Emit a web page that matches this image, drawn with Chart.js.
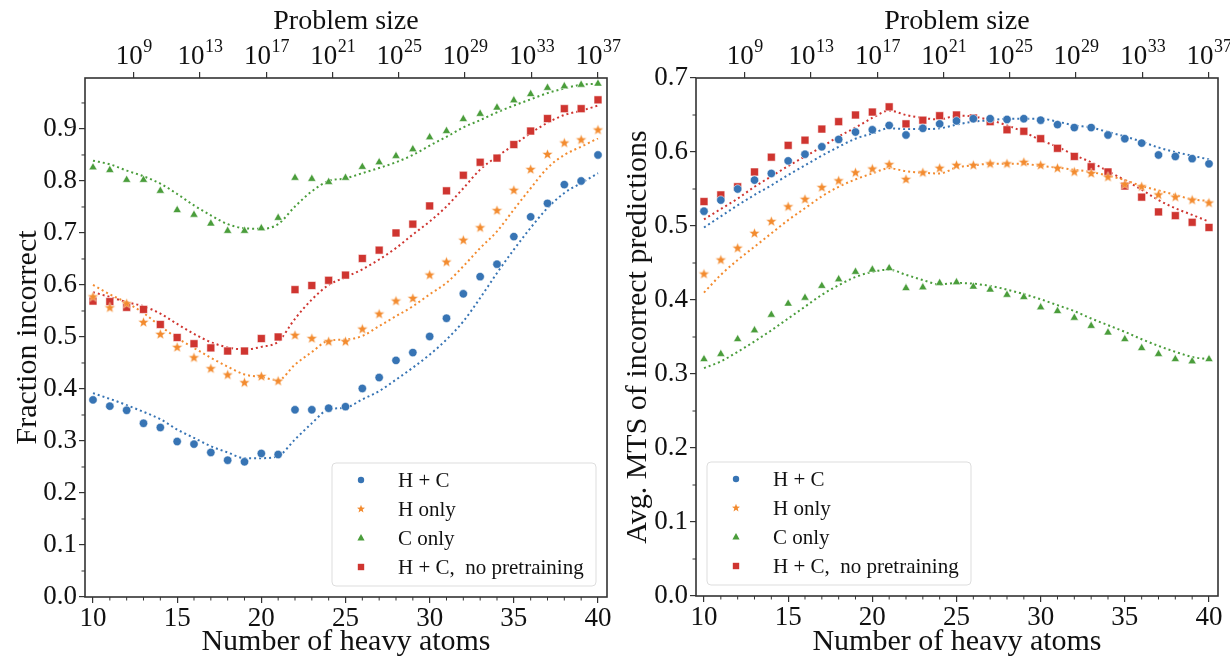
<!DOCTYPE html>
<html>
<head>
<meta charset="utf-8">
<script src="https://cdn.jsdelivr.net/npm/chart.js@4.4.1/dist/chart.umd.min.js"></script>
<style>
html, body { margin: 0; padding: 0; background: #fff; }
#wrap { position: relative; width: 1230px; height: 658px; overflow: hidden; }
.panel { position: absolute; top: 0; width: 630px; height: 658px; }
</style>
</head>
<body>
<div id="wrap">
    <div class="panel" style="left:0"><canvas id="fracChart" width="630" height="658"></canvas></div>
    <div class="panel" style="left:600px"><canvas id="mtsChart" width="630" height="658"></canvas></div>
</div>
<script>
"use strict"

/******************************************************************************/
// data
/******************************************************************************/

const atoms = [10, 11, 12, 13, 14, 15, 16, 17, 18, 19, 20, 21, 22, 23, 24, 25,
    26, 27, 28, 29, 30, 31, 32, 33, 34, 35, 36, 37, 38, 39, 40]

// left panel: fraction incorrect
const fracHC = [0.379, 0.367, 0.359, 0.334, 0.326, 0.299, 0.294, 0.278, 0.263, 0.260, 0.276, 0.274, 0.360, 0.360, 0.363, 0.366,
    0.401, 0.422, 0.455, 0.470, 0.501, 0.536, 0.583, 0.616, 0.640, 0.693, 0.731, 0.757, 0.793, 0.800, 0.850]
const fracHCFit = [0.392, 0.381, 0.369, 0.356, 0.342, 0.322, 0.306, 0.290, 0.278, 0.267, 0.267, 0.271, 0.303, 0.334, 0.361, 0.364,
    0.380, 0.396, 0.418, 0.441, 0.466, 0.495, 0.530, 0.575, 0.623, 0.668, 0.710, 0.748, 0.777, 0.796, 0.815]
const fracH = [0.577, 0.556, 0.564, 0.528, 0.505, 0.480, 0.460, 0.439, 0.427, 0.412, 0.424, 0.415, 0.503, 0.497, 0.491, 0.491,
    0.515, 0.544, 0.569, 0.574, 0.619, 0.644, 0.686, 0.710, 0.743, 0.782, 0.822, 0.851, 0.873, 0.879, 0.898]
const fracHFit = [0.600, 0.582, 0.566, 0.546, 0.521, 0.498, 0.479, 0.460, 0.443, 0.428, 0.423, 0.417, 0.447, 0.471, 0.493, 0.495,
    0.502, 0.521, 0.540, 0.559, 0.582, 0.604, 0.636, 0.671, 0.703, 0.745, 0.786, 0.825, 0.850, 0.866, 0.882]
const fracC = [0.826, 0.821, 0.802, 0.802, 0.781, 0.744, 0.735, 0.718, 0.704, 0.704, 0.709, 0.729, 0.806, 0.804, 0.798, 0.806,
    0.827, 0.836, 0.848, 0.861, 0.884, 0.896, 0.919, 0.929, 0.941, 0.955, 0.967, 0.979, 0.982, 0.985, 0.987]
const fracCFit = [0.839, 0.832, 0.820, 0.809, 0.795, 0.775, 0.753, 0.734, 0.717, 0.709, 0.708, 0.717, 0.751, 0.780, 0.800, 0.805,
    0.815, 0.825, 0.836, 0.850, 0.868, 0.885, 0.903, 0.917, 0.932, 0.945, 0.957, 0.969, 0.978, 0.985, 0.987]
const fracNP = [0.569, 0.568, 0.557, 0.553, 0.524, 0.499, 0.487, 0.479, 0.473, 0.473, 0.497, 0.500, 0.591, 0.599, 0.609, 0.619,
    0.651, 0.667, 0.700, 0.717, 0.752, 0.781, 0.811, 0.836, 0.844, 0.870, 0.896, 0.920, 0.939, 0.939, 0.956]
const fracNPFit = [0.586, 0.577, 0.567, 0.559, 0.545, 0.525, 0.506, 0.490, 0.480, 0.476, 0.481, 0.491, 0.535, 0.572, 0.600, 0.615,
    0.630, 0.649, 0.671, 0.697, 0.722, 0.751, 0.786, 0.822, 0.847, 0.869, 0.892, 0.912, 0.927, 0.935, 0.945]

// right panel: avg. MTS of incorrect predictions
const mtsHC = [0.520, 0.535, 0.550, 0.562, 0.571, 0.588, 0.597, 0.607, 0.617, 0.627, 0.630, 0.636, 0.623, 0.632, 0.638, 0.642,
    0.645, 0.645, 0.644, 0.645, 0.643, 0.637, 0.633, 0.633, 0.623, 0.618, 0.612, 0.596, 0.594, 0.591, 0.584]
const mtsHCFit = [0.498, 0.513, 0.528, 0.542, 0.555, 0.569, 0.582, 0.595, 0.607, 0.618, 0.625, 0.632, 0.631, 0.631, 0.632, 0.637,
    0.641, 0.643, 0.645, 0.645, 0.645, 0.641, 0.636, 0.633, 0.627, 0.621, 0.614, 0.606, 0.600, 0.595, 0.590]
const mtsH = [0.435, 0.454, 0.470, 0.490, 0.506, 0.526, 0.536, 0.552, 0.561, 0.572, 0.577, 0.583, 0.563, 0.572, 0.578, 0.582,
    0.582, 0.584, 0.584, 0.586, 0.582, 0.578, 0.573, 0.571, 0.566, 0.556, 0.553, 0.542, 0.539, 0.535, 0.531]
const mtsHFit = [0.410, 0.434, 0.454, 0.472, 0.490, 0.508, 0.524, 0.540, 0.553, 0.563, 0.571, 0.578, 0.574, 0.572, 0.571, 0.579,
    0.582, 0.584, 0.584, 0.584, 0.581, 0.579, 0.576, 0.573, 0.568, 0.562, 0.554, 0.548, 0.542, 0.536, 0.534]
const mtsC = [0.320, 0.327, 0.347, 0.359, 0.380, 0.395, 0.403, 0.419, 0.428, 0.438, 0.441, 0.443, 0.416, 0.417, 0.423, 0.424,
    0.418, 0.414, 0.407, 0.404, 0.390, 0.385, 0.376, 0.365, 0.356, 0.347, 0.335, 0.327, 0.320, 0.317, 0.320]
const mtsCFit = [0.308, 0.317, 0.330, 0.344, 0.359, 0.375, 0.391, 0.407, 0.420, 0.431, 0.438, 0.441, 0.434, 0.427, 0.421, 0.423,
    0.422, 0.419, 0.414, 0.408, 0.401, 0.393, 0.385, 0.375, 0.366, 0.357, 0.347, 0.338, 0.330, 0.323, 0.320]
const mtsNP = [0.533, 0.542, 0.553, 0.573, 0.593, 0.609, 0.616, 0.631, 0.641, 0.650, 0.654, 0.661, 0.638, 0.643, 0.649, 0.650,
    0.646, 0.641, 0.630, 0.628, 0.618, 0.605, 0.594, 0.580, 0.573, 0.554, 0.539, 0.519, 0.514, 0.505, 0.498]
const mtsNPFit = [0.509, 0.523, 0.537, 0.553, 0.567, 0.581, 0.594, 0.607, 0.621, 0.633, 0.646, 0.656, 0.650, 0.646, 0.644, 0.649,
    0.648, 0.643, 0.636, 0.627, 0.616, 0.607, 0.596, 0.586, 0.574, 0.562, 0.549, 0.535, 0.524, 0.515, 0.506]

// axes
const xTicks = [10, 15, 20, 25, 30, 35, 40]
const sizeTickAtoms = [12.42, 16.36, 20.3, 24.24, 28.18, 32.1, 36.06, 40.0]
const sizeTickExponents = ['9', '13', '17', '21', '25', '29', '33', '37']
const fracYTicks = [0, 0.1, 0.2, 0.3, 0.4, 0.5, 0.6, 0.7, 0.8, 0.9]
const mtsYTicks = [0, 0.1, 0.2, 0.3, 0.4, 0.5, 0.6, 0.7]

const seriesLabels = ['H + C', 'H only', 'C only', 'H + C,  no pretraining']

/******************************************************************************/
/******************************************************************************/

const FONT = '"Liberation Serif", "DejaVu Serif", serif'
const INK = '#111'
const X_MIN = 9.525
const X_MAX = 40.535

Chart.defaults.font.family = FONT
Chart.defaults.color = INK

let makeStar = function(outer, inner, color) {
    let c = document.createElement('canvas')
    let s = Math.ceil(outer * 2 + 3)
    c.width = s
    c.height = s
    let g = c.getContext('2d')
    g.beginPath()
    for (let i = 0; i < 10; i++) {
        let r = i % 2 ? inner : outer
        let a = -Math.PI / 2 + i * Math.PI / 5
        g.lineTo(s / 2 + r * Math.cos(a), s / 2 + r * Math.sin(a))
    }
    g.closePath()
    g.fillStyle = color
    g.fill()
    g.strokeStyle = 'rgba(255,255,255,0.5)'
    g.lineWidth = 0.8
    g.stroke()
    return c
}

const styles = [
    { color: '#3774b4', point: 'circle', radius: 4.2, mark: 'circle' },
    { color: '#f38b2f', point: makeStar(5.6, 2.4, '#f38b2f'), radius: 5, mark: 'star' },
    { color: '#4a9d3b', point: 'triangle', radius: 4.8, mark: 'triangle' },
    { color: '#cf3530', point: 'rect', radius: 5.6, mark: 'square' }
]

let toXY = vals => atoms.map((a, i) => ({ x: a, y: vals[i] }))

let drawMark = function(ctx, kind, x, y, color) {
    ctx.save()
    ctx.fillStyle = color
    ctx.beginPath()
    if (kind === 'circle') {
        ctx.arc(x, y, 3.2, 0, Math.PI * 2)
    } else if (kind === 'star') {
        for (let i = 0; i < 10; i++) {
            let r = i % 2 ? 1.8 : 4.2
            let a = -Math.PI / 2 + i * Math.PI / 5
            ctx.lineTo(x + r * Math.cos(a), y + r * Math.sin(a))
        }
        ctx.closePath()
    } else if (kind === 'triangle') {
        ctx.moveTo(x, y - 4)
        ctx.lineTo(x + 3.6, y + 2.6)
        ctx.lineTo(x - 3.6, y + 2.6)
        ctx.closePath()
    } else {
        ctx.rect(x - 3.2, y - 3.2, 6.4, 6.4)
    }
    ctx.fill()
    ctx.restore()
}

// box round the plot, minor ticks, top exponent labels, legend
const decorPlugin = {
    id: 'decor',
    afterDraw(chart, args, opts) {
        let ctx = chart.ctx
        let area = chart.chartArea
        ctx.save()
        ctx.strokeStyle = '#333'
        ctx.lineWidth = 1.6
        ctx.strokeRect(area.left, area.top, area.right - area.left, area.bottom - area.top)

        // minor ticks
        ctx.lineWidth = 1
        let xs = chart.scales.x
        for (let v = 11; v < 40; v++) {
            if (v % 5 === 0) continue
            let px = xs.getPixelForValue(v)
            ctx.beginPath()
            ctx.moveTo(px, area.bottom)
            ctx.lineTo(px, area.bottom + 3.5)
            ctx.stroke()
        }
        let ys = chart.scales.y
        for (let v = 0.05; v < ys.max; v += 0.1) {
            let py = ys.getPixelForValue(v)
            ctx.beginPath()
            ctx.moveTo(area.left, py)
            ctx.lineTo(area.left - 3.5, py)
            ctx.stroke()
        }

        // problem size labels: 10 with exponent
        let x2 = chart.scales.x2
        ctx.fillStyle = INK
        ctx.textBaseline = 'alphabetic'
        sizeTickAtoms.forEach((a, i) => {
            let px = x2.getPixelForValue(a)
            ctx.font = '27px ' + FONT
            let wb = ctx.measureText('10').width
            ctx.font = '18px ' + FONT
            let we = ctx.measureText(sizeTickExponents[i]).width
            let x0 = px - (wb + we) / 2
            ctx.font = '27px ' + FONT
            ctx.fillText('10', x0, 64)
            ctx.font = '18px ' + FONT
            ctx.fillText(sizeTickExponents[i], x0 + wb + 0.5, 52)
        })

        // legend
        let boxW = 264, boxH = 123
        let bx = opts.side === 'right' ? area.right - 11 - boxW : area.left + 11
        let by = area.bottom - 11 - boxH
        ctx.beginPath()
        ctx.roundRect(bx, by, boxW, boxH, 4)
        ctx.fillStyle = 'rgba(255,255,255,0.85)'
        ctx.fill()
        ctx.strokeStyle = '#dddddd'
        ctx.lineWidth = 1
        ctx.stroke()
        ctx.font = '21px ' + FONT
        ctx.textBaseline = 'middle'
        seriesLabels.forEach((lab, i) => {
            let ry = by + 17 + i * 29
            drawMark(ctx, styles[i].mark, bx + 29, ry, styles[i].color)
            ctx.fillStyle = INK
            ctx.fillText(lab, bx + 66, ry + 1)
        })
        ctx.restore()
    }
}

let buildChart = function({ canvasId, points, fits, yMax, yTicks, yTitle, yWidth, yTitlePad, padRight, bottomHeight, side }) {
    let datasets = []
    points.forEach((vals, i) => {
        datasets.push({
            label: seriesLabels[i],
            data: toXY(vals),
            showLine: false,
            pointStyle: styles[i].point,
            pointRadius: styles[i].radius,
            backgroundColor: styles[i].color,
            borderColor: 'rgba(255,255,255,0.55)',
            borderWidth: 1
        })
    })
    fits.forEach((vals, i) => {
        datasets.push({
            label: seriesLabels[i] + ' fit',
            data: toXY(vals),
            showLine: true,
            pointRadius: 0,
            borderColor: styles[i].color,
            borderWidth: 2,
            borderDash: [2, 3],
            cubicInterpolationMode: 'monotone',
            fill: false
        })
    })

    let tickGrid = { drawOnChartArea: false, tickLength: 6, color: '#333', lineWidth: 1.2 }

    return new Chart(document.getElementById(canvasId), {
        type: 'scatter',
        data: { datasets },
        options: {
            responsive: false,
            animation: false,
            events: [],
            layout: { padding: { left: 0, right: padRight, top: 0, bottom: 0 } },
            plugins: {
                legend: { display: false },
                tooltip: { enabled: false },
                decor: { side }
            },
            scales: {
                x: {
                    type: 'linear', position: 'bottom', min: X_MIN, max: X_MAX,
                    afterBuildTicks: sc => { sc.ticks = xTicks.map(v => ({ value: v })) },
                    afterFit: sc => { sc.height = bottomHeight },
                    ticks: { autoSkip: false, maxRotation: 0, padding: 0, font: { size: 27 }, color: INK },
                    grid: tickGrid,
                    border: { display: false },
                    title: { display: true, text: 'Number of heavy atoms', font: { size: 30 }, color: INK, padding: { top: 0, bottom: -2 } }
                },
                x2: {
                    type: 'linear', position: 'top', min: X_MIN, max: X_MAX,
                    afterBuildTicks: sc => { sc.ticks = sizeTickAtoms.map(v => ({ value: v })) },
                    afterFit: sc => { sc.height = 78 },
                    ticks: { display: false },
                    grid: tickGrid,
                    border: { display: false },
                    title: { display: true, text: 'Problem size', font: { size: 28 }, color: INK, padding: { top: 5, bottom: 0 } }
                },
                y: {
                    min: 0, max: yMax,
                    afterBuildTicks: sc => { sc.ticks = yTicks.map(v => ({ value: v })) },
                    afterFit: sc => { sc.width = yWidth },
                    ticks: { autoSkip: false, padding: 2, font: { size: 27 }, color: INK, callback: v => v.toFixed(1) },
                    grid: tickGrid,
                    border: { display: false },
                    title: { display: true, text: yTitle, font: { size: 30 }, color: INK, padding: { top: yTitlePad, bottom: 0 } }
                }
            }
        },
        plugins: [decorPlugin]
    })
}

buildChart({
    canvasId: 'fracChart',
    points: [fracHC, fracH, fracC, fracNP],
    fits: [fracHCFit, fracHFit, fracCFit, fracNPFit],
    yMax: 0.998, yTicks: fracYTicks, yTitle: 'Fraction incorrect',
    yWidth: 85, yTitlePad: 10, padRight: 23, bottomHeight: 61, side: 'right'
})

buildChart({
    canvasId: 'mtsChart',
    points: [mtsHC, mtsH, mtsC, mtsNP],
    fits: [mtsHCFit, mtsHFit, mtsCFit, mtsNPFit],
    yMax: 0.7, yTicks: mtsYTicks, yTitle: 'Avg. MTS of incorrect predictions',
    yWidth: 96, yTitlePad: 20, padRight: 12, bottomHeight: 62, side: 'left'
})
</script>
</body>
</html>
